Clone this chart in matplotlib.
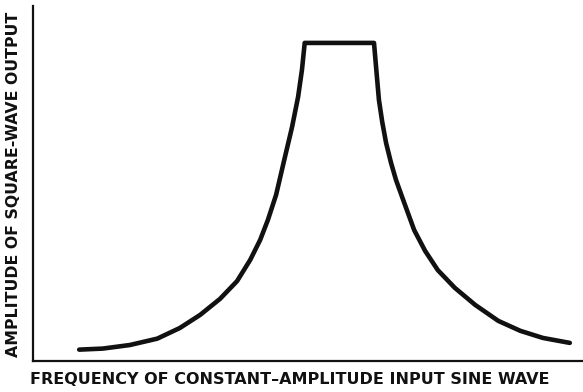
import matplotlib
matplotlib.use("Agg")
import matplotlib.pyplot as plt

# Frequency (relative units) and square-wave output amplitude (relative units)
freq = [8.4, 12.7, 17.6, 22.6, 26.7, 30.4, 34.0, 37.1, 39.5, 41.3, 42.7, 44.2,
        45.6, 47.1, 48.2, 48.9, 49.4,
        62.0,
        62.5, 62.9, 63.5, 64.2, 65.1, 66.0, 67.3, 69.3, 71.3, 73.6, 76.7,
        80.4, 84.6, 88.6, 92.7, 97.6]
amplitude = [3.2, 3.5, 4.5, 6.3, 9.3, 13.0, 17.5, 22.5, 28.5, 34.1, 39.7, 46.8,
             56.1, 65.9, 74.4, 82.0, 89.6,
             89.6,
             80.6, 73.5, 67.3, 61.4, 55.8, 51.0, 45.4, 36.9, 31.0, 25.6, 20.6,
             15.8, 11.3, 8.5, 6.5, 5.1]

x_label = "FREQUENCY OF CONSTANT\u2013AMPLITUDE INPUT SINE WAVE"
y_label = "AMPLITUDE OF SQUARE-WAVE OUTPUT"

W, H = 583, 392
fig = plt.figure(figsize=(W / 100, H / 100), dpi=100)
ax = fig.add_axes([33 / W, 31 / H, 550 / W, 355 / H])

ax.plot(freq, amplitude, color="#111111", lw=3.3,
        solid_joinstyle="round", solid_capstyle="round")

ax.set_xlim(0, 100)
ax.set_ylim(0, 100)
for side in ("top", "right"):
    ax.spines[side].set_visible(False)
for side in ("left", "bottom"):
    ax.spines[side].set_linewidth(1.6)
    ax.spines[side].set_color("#111111")
ax.set_xticks([])
ax.set_yticks([])

fig.text(289.5 / W, 1 - 379 / H, x_label, ha="center", va="center",
         fontsize=11.5, fontweight="bold", color="#111111")
fig.text(14 / W, 1 - 184.5 / H, y_label, ha="center", va="center",
         rotation=90, fontsize=11.3, fontweight="bold", color="#111111")

fig.savefig("out.png", dpi=100)
